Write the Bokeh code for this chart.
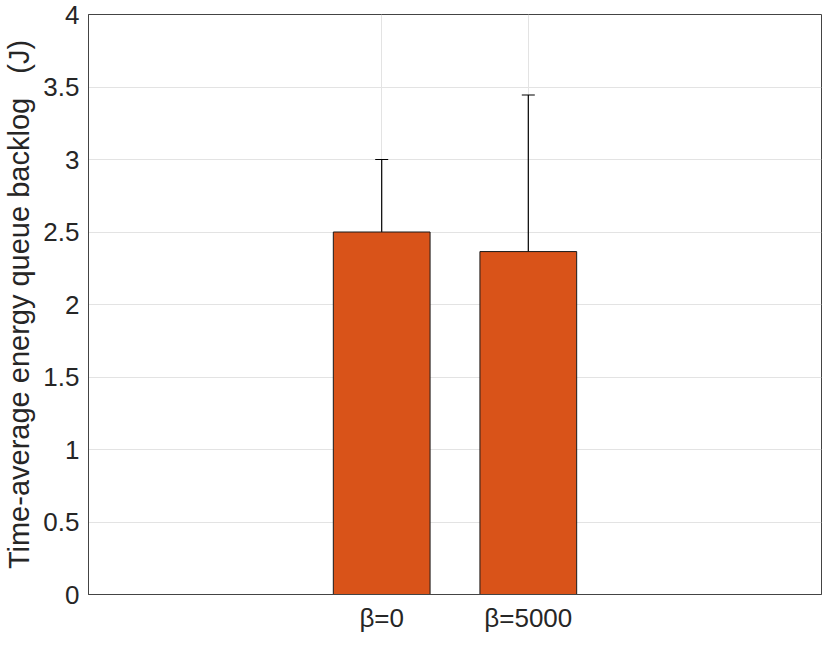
from bokeh.plotting import figure
from bokeh.models import ColumnDataSource, FixedTicker, Range1d, Whisker
from bokeh.embed import file_html
from bokeh.resources import INLINE

# Data
categories = ["β=0", "β=5000"]
positions = [1, 2]
means = [2.5, 2.365]
err_low = [2.0, 1.285]
err_high = [3.0, 3.445]
y_ticks = [0, 0.5, 1, 1.5, 2, 2.5, 3, 3.5, 4]
y_tick_labels = ["0", "0.5", "1", "1.5", "2", "2.5", "3", "3.5", "4"]

FONT = "Liberation Sans"
TXT = "#262626"

p = figure(width=822, height=636, output_backend="svg", toolbar_location=None,
           x_range=Range1d(-1, 4), y_range=Range1d(0, 4),
           min_border_left=88, min_border_right=1, min_border_top=14, min_border_bottom=42)

p.background_fill_color = "white"
p.border_fill_color = "white"
p.outline_line_color = "#444444"
p.outline_line_width = 1

src = ColumnDataSource(dict(x=positions, top=means, lo=err_low, hi=err_high))
p.vbar(x="x", top="top", bottom=0, width=0.66, source=src,
       fill_color="#D95319", line_color="#1a1a1a", line_width=1)

# baseline
p.segment(x0=[positions[0] - 0.54], y0=[0], x1=[positions[-1] + 0.54], y1=[0],
          line_color="black", line_width=1.2)

w = Whisker(source=src, base="x", lower="lo", upper="hi",
            line_color="black", line_width=1.2)
for head in (w.upper_head, w.lower_head):
    head.size = 13
    head.line_color = "black"
    head.line_width = 1.2
p.add_layout(w)

# axes
p.xaxis.ticker = FixedTicker(ticks=positions)
p.xaxis.major_label_overrides = {pos: c for pos, c in zip(positions, categories)}
p.yaxis.ticker = FixedTicker(ticks=y_ticks)
p.yaxis.major_label_overrides = {t: l for t, l in zip(y_ticks, y_tick_labels)}

for ax in [p.xaxis[0], p.yaxis[0]]:
    ax.major_tick_in = 0
    ax.major_tick_out = 0
    ax.minor_tick_in = 0
    ax.minor_tick_out = 0
    ax.axis_line_color = "#444444"
    ax.major_label_text_font = FONT
    ax.major_label_text_font_size = "26px"
    ax.major_label_text_color = TXT

p.xaxis.major_label_standoff = 8
p.yaxis.major_label_standoff = 9
p.yaxis.axis_label = "Time-average energy queue backlog\u00a0\u00a0\u00a0(J)"
p.yaxis.axis_label_text_font = FONT
p.yaxis.axis_label_text_font_size = "29px"
p.yaxis.axis_label_text_font_style = "normal"
p.yaxis.axis_label_text_color = TXT
p.yaxis.axis_label_standoff = 5

p.xgrid.grid_line_color = "#e3e3e3"
p.ygrid.grid_line_color = "#e3e3e3"
p.xgrid.grid_line_width = 1
p.ygrid.grid_line_width = 1

open("out.html", "w").write(file_html(p, INLINE))
